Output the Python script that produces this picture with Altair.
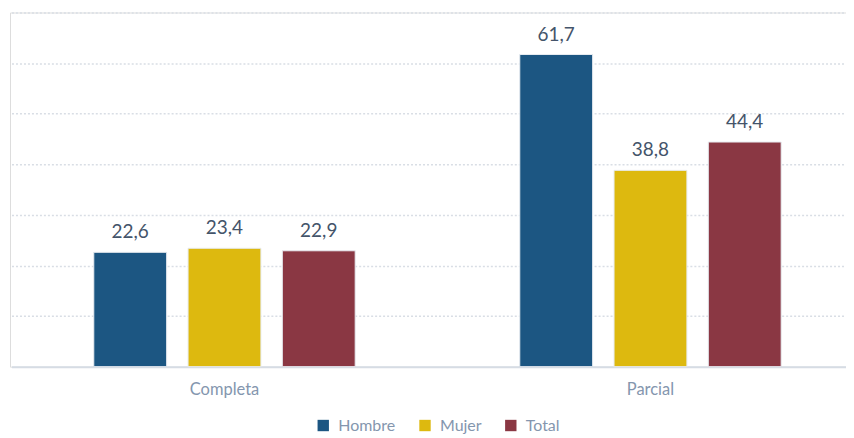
import altair as alt
import pandas as pd

categories = ["Completa", "Parcial"]
series = ["Hombre", "Mujer", "Total"]
hombre = [22.6, 61.7]
mujer = [23.4, 38.8]
total = [22.9, 44.4]
colors = ["#1C5682", "#DDB90F", "#8A3743"]

rows = []
for i, c in enumerate(categories):
    for s, vals in zip(series, [hombre, mujer, total]):
        rows.append({"cat": c, "serie": s, "v": vals[i]})
df = pd.DataFrame(rows)

FONT = "Lato"

base = alt.Chart(df).encode(
    x=alt.X("cat:N", sort=categories, title=None,
            scale=alt.Scale(range=[1.5, 855.5], paddingInner=0, paddingOuter=0),
            axis=alt.Axis(labelAngle=0, labelFontSize=16.5, labelColor="#8496AE", labelFont=FONT,
                          labelPadding=15, ticks=False, grid=False,
                          domainColor="#D6DCE4", domainWidth=2)),
    xOffset=alt.XOffset("serie:N", sort=series,
                        scale=alt.Scale(paddingInner=0.227, paddingOuter=0.873)),
)

bars = base.mark_bar(stroke="#E8ECF1", strokeWidth=1).encode(
    y=alt.Y("v:Q", title=None, scale=alt.Scale(domain=[0, 70], nice=False),
            axis=alt.Axis(labels=False, ticks=False, domain=False,
                          values=[10, 20, 30, 40, 50, 60, 70],
                          gridColor="#D9DEE5", gridDash=[2, 2], gridWidth=1.5)),
    color=alt.Color("serie:N", sort=series, title=None,
                    scale=alt.Scale(domain=series, range=colors),
                    legend=alt.Legend(orient="none", direction="horizontal", legendX=306, legendY=406,
                                      symbolType="square", symbolSize=130, symbolStrokeWidth=0,
                                      labelFontSize=16, labelColor="#8496AE", labelFont=FONT,
                                      columnPadding=21, labelOffset=7)),
)

labels = base.mark_text(baseline="bottom", dy=-10, fontSize=19, color="#44546A", font=FONT).transform_calculate(
    label="replace(format(datum.v, '.1f'), '.', ',')"
).encode(
    y=alt.Y("v:Q"),
    text="label:N",
)

chart = alt.layer(bars, labels).properties(
    width=838, height=355,
    autosize=alt.AutoSizeParams(type="none"),
    padding={"left": 2, "top": 4, "right": 0, "bottom": 69},
).configure_view(stroke=None).configure(font=FONT, background="white")

chart.save("out.html", embed_options={"renderer": "svg", "actions": False})
